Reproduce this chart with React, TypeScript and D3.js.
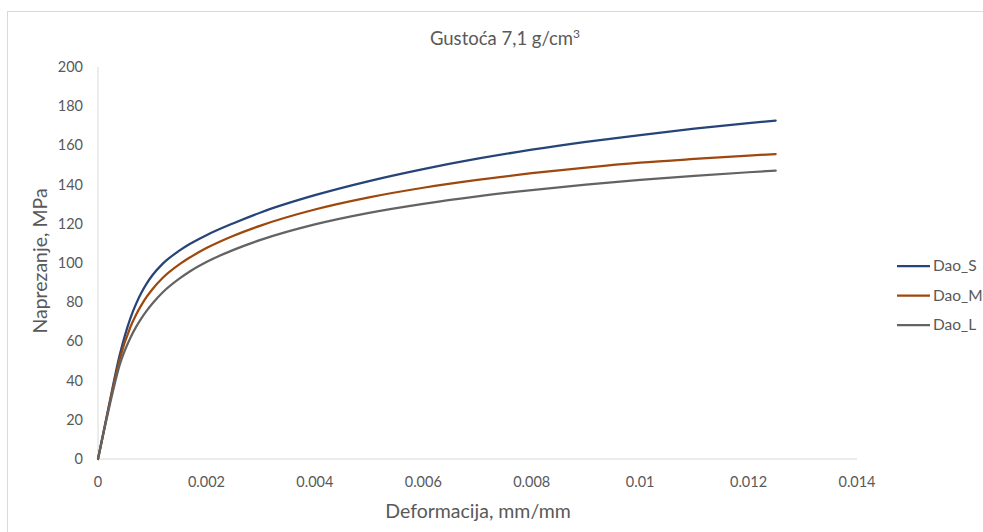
import React from "react";
import * as d3 from "d3";

const strain = [0, 0.0002, 0.0004, 0.0006, 0.0007, 0.0008, 0.0009, 0.001, 0.0012, 0.0015, 0.0017, 0.002, 0.0025, 0.003, 0.004, 0.005, 0.006, 0.007, 0.008, 0.009, 0.010, 0.011, 0.012, 0.0125];
const daoS = [0, 27, 53, 72, 79, 84.8, 89.6, 93.6, 99.8, 106.3, 109.8, 114.2, 120.3, 125.8, 134.6, 141.8, 147.9, 153.2, 157.8, 161.8, 165.3, 168.5, 171.4, 172.7];
const daoM = [0, 26.5, 51, 67.5, 73.5, 78.5, 82.8, 86.5, 92.6, 99.3, 102.9, 107.6, 113.9, 119.1, 127.3, 133.5, 138.4, 142.4, 145.8, 148.7, 151.2, 153.1, 154.8, 155.6];
const daoL = [0, 25.5, 48, 62, 67.3, 71.8, 75.7, 79.2, 85.2, 92, 95.8, 100.5, 106.7, 111.8, 119.7, 125.6, 130.2, 134, 137.2, 140, 142.4, 144.5, 146.3, 147.1];

const seriesNames = ["Dao_S", "Dao_M", "Dao_L"];
const seriesValues = [daoS, daoM, daoL];
const seriesColors = ["#264478", "#9E480E", "#636363"];

const xTicks = [0, 0.002, 0.004, 0.006, 0.008, 0.01, 0.012, 0.014];
const xTickLabels = ["0", "0.002", "0.004", "0.006", "0.008", "0.01", "0.012", "0.014"];
const yTicks = [0, 20, 40, 60, 80, 100, 120, 140, 160, 180, 200];

const W = 983;
const H = 532;
const FONT = "Lato, 'Open Sans', sans-serif";

export default function App() {
  const x = d3.scaleLinear().domain([0, 0.014]).range([98, 857]);
  const y = d3.scaleLinear().domain([0, 200]).range([459, 67]);
  const line = d3
    .line<[number, number]>()
    .x((d) => x(d[0]))
    .y((d) => y(d[1]))
    .curve(d3.curveMonotoneX);

  return (
    <div style={{ position: "absolute", left: 0, top: 0, width: W, height: H, background: "#fff" }}>
      <svg width={W} height={H} style={{ display: "block", fontFamily: FONT }}>
        <rect x={7.5} y={11.5} width={W} height={H} fill="#fff" stroke="#d9d9d9" strokeWidth={1} />
        <text x={505} y={45} textAnchor="middle" fontSize={18.5} fill="#595959">
          Gustoća 7,1 g/cm<tspan fontSize={12} dy={-7}>3</tspan>
        </text>
        <line x1={x(0)} x2={x(0)} y1={y(200)} y2={y(0)} stroke="#d9d9d9" strokeWidth={1} />
        <line x1={x(0)} x2={x(0.014)} y1={y(0)} y2={y(0)} stroke="#d9d9d9" strokeWidth={1} />
        {yTicks.map((t) => (
          <text key={"y" + t} x={83} y={y(t)} dy="0.35em" textAnchor="end" fontSize={14.5} fill="#595959">
            {t}
          </text>
        ))}
        {xTicks.map((t, i) => (
          <text key={"x" + i} x={x(t)} y={487} textAnchor="middle" fontSize={14.5} fill="#595959">
            {xTickLabels[i]}
          </text>
        ))}
        <text
          transform={`translate(47,${261}) rotate(-90)`}
          textAnchor="middle"
          fontSize={19.5}
          fill="#595959"
        >
          Naprezanje, MPa
        </text>
        <text x={478} y={518} textAnchor="middle" fontSize={19.5} fill="#595959">
          Deformacija, mm/mm
        </text>
        {seriesValues.map((vals, i) => (
          <path
            key={seriesNames[i]}
            d={line(strain.map((s, j) => [s, vals[j]] as [number, number])) || ""}
            fill="none"
            stroke={seriesColors[i]}
            strokeWidth={2.25}
            strokeLinejoin="round"
            strokeLinecap="round"
          />
        ))}
        {seriesNames.map((n, i) => (
          <g key={"lg" + n} transform={`translate(897,${266 + i * 29.5})`}>
            <line x1={0} x2={33} y1={0} y2={0} stroke={seriesColors[i]} strokeWidth={2.25} />
            <text x={36} y={0} dy="0.35em" fontSize={15.5} fill="#595959">
              {n}
            </text>
          </g>
        ))}
      </svg>
    </div>
  );
}
